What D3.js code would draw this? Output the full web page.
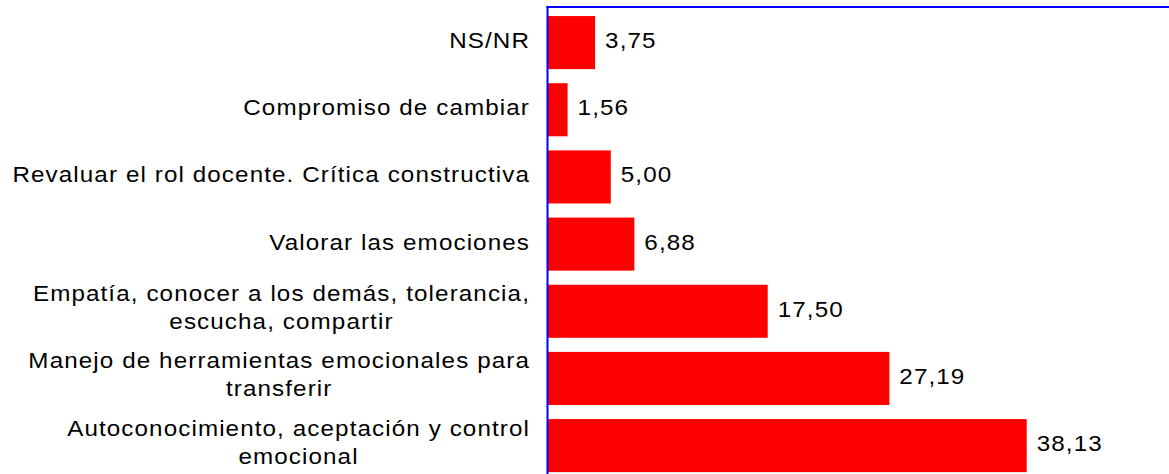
<!DOCTYPE html>
<html>
<head>
<meta charset="utf-8">
<script src="https://cdn.jsdelivr.net/npm/d3@7/dist/d3.min.js"></script>
<style>
  html, body { margin: 0; padding: 0; background: #fff; }
  svg { display: block; }
  text { font-family: "Liberation Sans", Arial, sans-serif; fill: #000; }
</style>
</head>
<body>
<svg id="chart" width="1169" height="474"></svg>
<script>
// ---- data ----
const categories = [
  ["NS/NR"],
  ["Compromiso de cambiar"],
  ["Revaluar el rol docente. Crítica constructiva"],
  ["Valorar las emociones"],
  ["Empatía, conocer a los demás, tolerancia,", "escucha, compartir"],
  ["Manejo de herramientas emocionales para", "transferir"],
  ["Autoconocimiento, aceptación y control", "emocional"]
];
const values = [3.75, 1.56, 5.00, 6.88, 17.50, 27.19, 38.13];
const valueLabels = ["3,75", "1,56", "5,00", "6,88", "17,50", "27,19", "38,13"];
const xDomain = [0, 50];

// ---- layout ----
const W = 1169, H = 474;
const plotLeft = 548;
const fontSize = 22, letterSp = 1, stretch = 1.1;

const svg = d3.select("#chart");
const idx = d3.range(values.length);

const x = d3.scaleLinear().domain(xDomain).range([plotLeft, plotLeft + 50 * 12.555]);
const y = d3.scaleBand().domain(idx).range([9, 9 + 7 * 67.17]).paddingInner(0.21).paddingOuter(0.105);

function stretchText(sel) {
  sel.each(function() {
    const L = this.getComputedTextLength();
    d3.select(this).attr("textLength", L * stretch).attr("lengthAdjust", "spacingAndGlyphs");
  });
}

// bars
svg.append("g").selectAll("rect").data(idx).join("rect")
  .attr("x", x(0))
  .attr("y", d => y(d))
  .attr("width", d => x(values[d]) - x(0))
  .attr("height", y.bandwidth())
  .attr("fill", "#ff0000");

// axis line and top border
svg.append("line").attr("x1", 547.5).attr("x2", 547.5).attr("y1", 6).attr("y2", H)
  .attr("stroke", "#0000ff").attr("stroke-width", 2);
svg.append("line").attr("x1", 546.5).attr("x2", W).attr("y1", 7).attr("y2", 7)
  .attr("stroke", "#0000ff").attr("stroke-width", 2);

// value labels
svg.append("g").selectAll("text").data(idx).join("text")
  .attr("x", d => x(values[d]) + 10)
  .attr("y", d => y(d) + y.bandwidth() / 2 + 5.5)
  .attr("font-size", fontSize)
  .attr("letter-spacing", letterSp)
  .text(d => valueLabels[d])
  .call(stretchText);

// category labels
const rightEdge = 530;
const lineH = 28;
const gCat = svg.append("g");
idx.forEach(d => {
  const lines = categories[d];
  const cy = y(d) + y.bandwidth() / 2;
  const n = lines.length;
  const texts = lines.map((ln, i) => gCat.append("text")
    .attr("font-size", fontSize)
    .attr("letter-spacing", letterSp)
    .attr("y", cy + 5.5 + (i - (n - 1) / 2) * lineH - (n > 1 ? 1.5 : 0))
    .text(ln));
  texts.forEach(t => stretchText(t));
  if (n === 1) {
    texts[0].attr("text-anchor", "end").attr("x", rightEdge);
  } else {
    const maxW = d3.max(texts, t => +t.attr("textLength"));
    texts.forEach(t => t.attr("text-anchor", "middle").attr("x", rightEdge - maxW / 2));
  }
});
</script>
</body>
</html>
